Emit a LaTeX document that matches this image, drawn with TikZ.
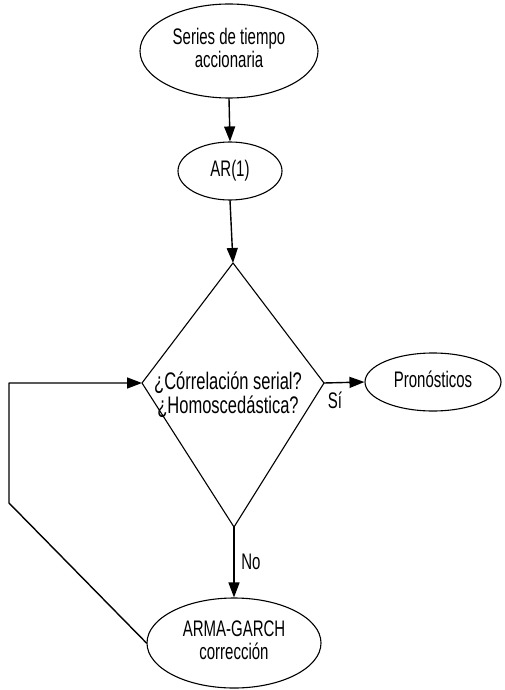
\documentclass[tikz,border=0pt]{standalone}
\usepackage{graphicx}
\usepackage{fontspec}
\setmainfont{Liberation Sans}
\usetikzlibrary{arrows.meta,shapes.geometric}

% stretched text, as in the scanned figure
\newcommand{\alto}[2][1.5]{\scalebox{1}[#1]{\begin{tabular}{@{}c@{}}#2\end{tabular}}}

\begin{document}
\begin{tikzpicture}[x=1pt,y=-1pt,>={Triangle[length=15pt,width=11pt]},
    line cap=round,line join=round,
    caja/.style={ellipse,draw,line width=1.1pt,inner sep=0pt,
      font=\fontsize{15}{14}\selectfont},
    flecha/.style={->,line width=1.4pt},
    etiqueta/.style={font=\fontsize{15}{14}\selectfont}]
    \useasboundingbox (0,0) rectangle (504,690);

    % Ellipses of the flow.
    \node[caja,minimum width=178pt,minimum height=94pt] (serie) at (229,51)
      {\alto{Series de tiempo\\accionaria}};
    \node[caja,minimum width=104pt,minimum height=58pt] (ar) at (230,171)
      {\alto{AR(1)}};
    \node[caja,minimum width=136pt,minimum height=58pt] (pron) at (433,382)
      {\alto{Pronósticos}};
    \node[caja,minimum width=174pt,minimum height=90pt] (arma) at (234,643)
      {\alto{ARMA-GARCH\\corrección}};

    % The decision diamond (not symmetric top to bottom).
    \coordinate (dtop) at (233,263);
    \coordinate (dleft) at (142,383);
    \coordinate (dright) at (324,383);
    \coordinate (dbot) at (234,527);
    \draw[line width=1.1pt] (dtop) -- (dright) -- (dbot) -- (dleft) -- cycle;
    \node[font=\fontsize{16.5}{14.5}\selectfont] (pregunta) at (228,396)
      {\alto[1.45]{¿Córrelación serial?\\¿Homoscedástica?}};

    % Connectors.
    \draw[flecha] (serie.south) -- (ar.north);
    \draw[flecha] (ar.south) -- (dtop);
    \draw[flecha] (dright) -- (pron.west);
    \draw[flecha] (dbot) -- (arma.north);

    % Feedback loop back to the question.
    \coordinate (lazoa) at (9,503);
    \coordinate (lazob) at (9,383);
    \draw[flecha] (arma.west) -- (lazoa) -- (lazob) -- (dleft);

    % Branch labels.
    \node[etiqueta] (si) at (335,403) {\alto{Sí}};
    \node[etiqueta] (no) at (251,565) {\alto{No}};
\end{tikzpicture}
\end{document}
